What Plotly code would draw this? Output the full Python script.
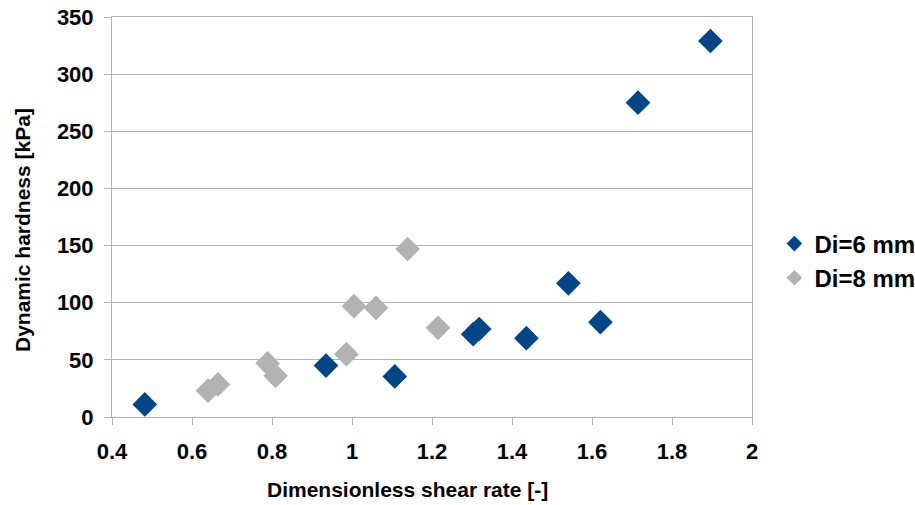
import plotly.graph_objects as go

# Dimensionless shear rate [-] and dynamic hardness [kPa] per inner diameter
di6_rate = [0.482, 0.935, 1.107, 1.303, 1.318, 1.436, 1.541, 1.621, 1.715, 1.896]
di6_hardness = [11, 45, 35.5, 72.5, 77, 69, 117, 83, 275, 329]

di8_rate = [0.640, 0.665, 0.789, 0.809, 0.986, 1.005, 1.060, 1.139, 1.215]
di8_hardness = [23, 28.5, 47, 36, 55, 97, 95.5, 147, 78]

x_ticks = [0.4, 0.6, 0.8, 1, 1.2, 1.4, 1.6, 1.8, 2]
y_ticks = [0, 50, 100, 150, 200, 250, 300, 350]

BLUE = "#004586"
GRAY = "#b2b2b2"
GRID = "#b3b3b3"
FONT = "Liberation Sans, Arial, sans-serif"

fig = go.Figure()
fig.add_trace(go.Scatter(
    x=di6_rate, y=di6_hardness, mode="markers", name="Di=6 mm",
    marker=dict(symbol="diamond", size=19, color=BLUE, line=dict(width=0)),
))
fig.add_trace(go.Scatter(
    x=di8_rate, y=di8_hardness, mode="markers", name="Di=8 mm",
    marker=dict(symbol="diamond", size=19, color=GRAY, line=dict(width=0)),
))

fig.update_layout(
    width=915, height=505,
    margin=dict(l=112, r=163, t=17, b=88, autoexpand=False),
    paper_bgcolor="white", plot_bgcolor="white",
    font=dict(family=FONT, color="black"),
    showlegend=True,
    legend=dict(
        x=1.035, y=0.39, xanchor="left", yanchor="middle",
        font=dict(family=FONT, size=24, color="black", weight="bold"),
        itemsizing="constant", bgcolor="rgba(0,0,0,0)",
        tracegroupgap=0,
    ),
    xaxis=dict(
        range=[0.4, 2], tickvals=x_ticks, ticktext=[f"{v:g}" for v in x_ticks],
        showgrid=False, zeroline=False,
        showline=True, linecolor=GRID, linewidth=1, mirror=True,
        ticks="outside", ticklen=7, tickcolor=GRID, tickwidth=1,
        ticklabelstandoff=8,
        tickfont=dict(family=FONT, size=22, color="black", weight="bold"),
    ),
    yaxis=dict(
        range=[0, 350], tickvals=y_ticks, ticktext=[str(v) for v in y_ticks],
        showgrid=True, gridcolor=GRID, gridwidth=1, zeroline=False,
        showline=True, linecolor=GRID, linewidth=1, mirror=True,
        ticks="outside", ticklen=7, tickcolor=GRID, tickwidth=1,
        ticklabelstandoff=6,
        tickfont=dict(family=FONT, size=22, color="black", weight="bold"),
    ),
    annotations=[
        dict(text="Dimensionless shear rate [-]", xref="paper", yref="paper",
             x=(407 - 112) / 640, y=-(489 - 416.7) / 399.4,
             xanchor="center", yanchor="middle", showarrow=False,
             font=dict(family=FONT, size=21, color="black", weight="bold")),
        dict(text="Dynamic hardness [kPa]", xref="paper", yref="paper",
             x=-(112 - 22) / 640, y=(416.7 - 230) / 399.4, textangle=-90,
             xanchor="center", yanchor="middle", showarrow=False,
             font=dict(family=FONT, size=21, color="black", weight="bold")),
    ],
)

fig.write_html("out.html")
